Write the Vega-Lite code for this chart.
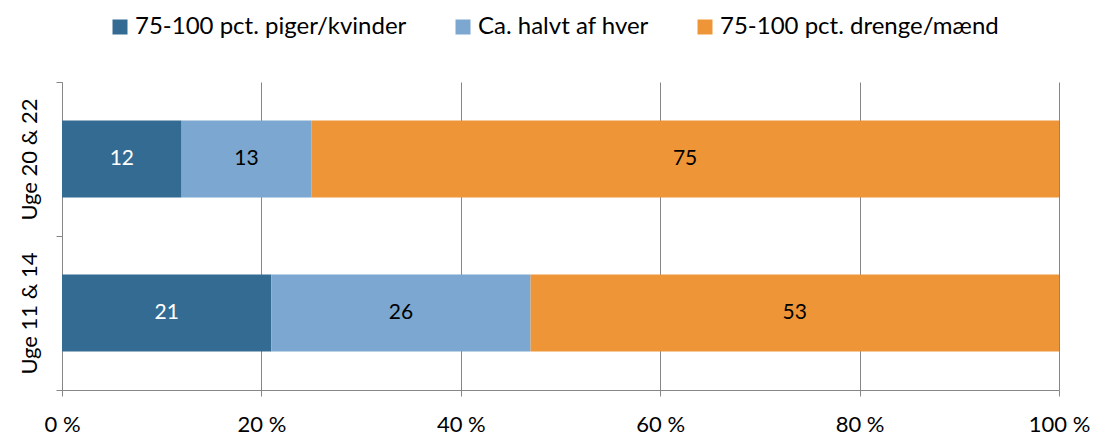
{
  "$schema": "https://vega.github.io/schema/vega-lite/v6.json",
  "width": 997,
  "height": 308,
  "autosize": {"type": "none"},
  "padding": {"left": 62, "top": 82, "right": 35, "bottom": 45},
  "background": "white",
  "config": {
    "font": "Lato",
    "view": {"stroke": null}
  },
  "data": {
    "values": [
      {"uge": "Uge 20 & 22", "kat": "75-100 pct. piger/kvinder", "ordre": 1, "value": 12},
      {"uge": "Uge 20 & 22", "kat": "Ca. halvt af hver", "ordre": 2, "value": 13},
      {"uge": "Uge 20 & 22", "kat": "75-100 pct. drenge/mænd", "ordre": 3, "value": 75},
      {"uge": "Uge 11 & 14", "kat": "75-100 pct. piger/kvinder", "ordre": 1, "value": 21},
      {"uge": "Uge 11 & 14", "kat": "Ca. halvt af hver", "ordre": 2, "value": 26},
      {"uge": "Uge 11 & 14", "kat": "75-100 pct. drenge/mænd", "ordre": 3, "value": 53}
    ]
  },
  "transform": [
    {"stack": "value", "groupby": ["uge"], "sort": [{"field": "ordre", "order": "ascending"}], "as": ["x0", "x1"]},
    {"calculate": "(datum.x0 + datum.x1) / 2", "as": "xm"}
  ],
  "encoding": {
    "y": {
      "field": "uge",
      "type": "nominal",
      "sort": ["Uge 20 & 22", "Uge 11 & 14"],
      "scale": {"paddingInner": 0, "paddingOuter": 0},
      "axis": {
        "title": null,
        "labelAngle": -90,
        "labelAlign": "center",
        "labelBaseline": "bottom",
        "labelFontSize": 22,
        "labelColor": "#000000",
        "labelPadding": 15,
        "tickBand": "extent",
        "tickSize": 6,
        "tickColor": "#868686",
        "domainColor": "#868686",
        "grid": false
      }
    }
  },
  "layer": [
    {
      "mark": {"type": "bar", "height": {"band": 0.5}},
      "encoding": {
        "x": {
          "field": "x0",
          "type": "quantitative",
          "scale": {"domain": [0, 100], "nice": false},
          "axis": {
            "title": null,
            "values": [0, 20, 40, 60, 80, 100],
            "labelExpr": "datum.value + ' %'",
            "labelFontSize": 22,
            "labelColor": "#000000",
            "labelFlush": false,
            "labelOverlap": false,
            "labelPadding": 18,
            "tickSize": 6,
            "tickColor": "#868686",
            "domainColor": "#868686",
            "grid": true,
            "gridColor": "#868686",
            "gridWidth": 1
          }
        },
        "x2": {"field": "x1"},
        "color": {
          "field": "kat",
          "type": "nominal",
          "sort": ["75-100 pct. piger/kvinder", "Ca. halvt af hver", "75-100 pct. drenge/mænd"],
          "scale": {
            "domain": ["75-100 pct. piger/kvinder", "Ca. halvt af hver", "75-100 pct. drenge/mænd"],
            "range": ["#346b92", "#7ba7d0", "#ee9637"]
          },
          "legend": {
            "title": null,
            "orient": "none",
            "direction": "horizontal",
            "legendX": 46,
            "legendY": -67,
            "symbolType": "square",
            "symbolSize": 225,
            "symbolStrokeWidth": 0,
            "labelFontSize": 24,
            "labelColor": "#000000",
            "labelOffset": 3,
            "columnPadding": 44,
            "labelLimit": 400
          }
        }
      }
    },
    {
      "mark": {"type": "text", "fontSize": 21, "baseline": "middle", "align": "center"},
      "encoding": {
        "x": {"field": "xm", "type": "quantitative"},
        "text": {"field": "value", "type": "quantitative"},
        "color": {
          "condition": {"test": "datum.kat === '75-100 pct. piger/kvinder'", "value": "#ffffff"},
          "value": "#000000"
        }
      }
    }
  ]
}
